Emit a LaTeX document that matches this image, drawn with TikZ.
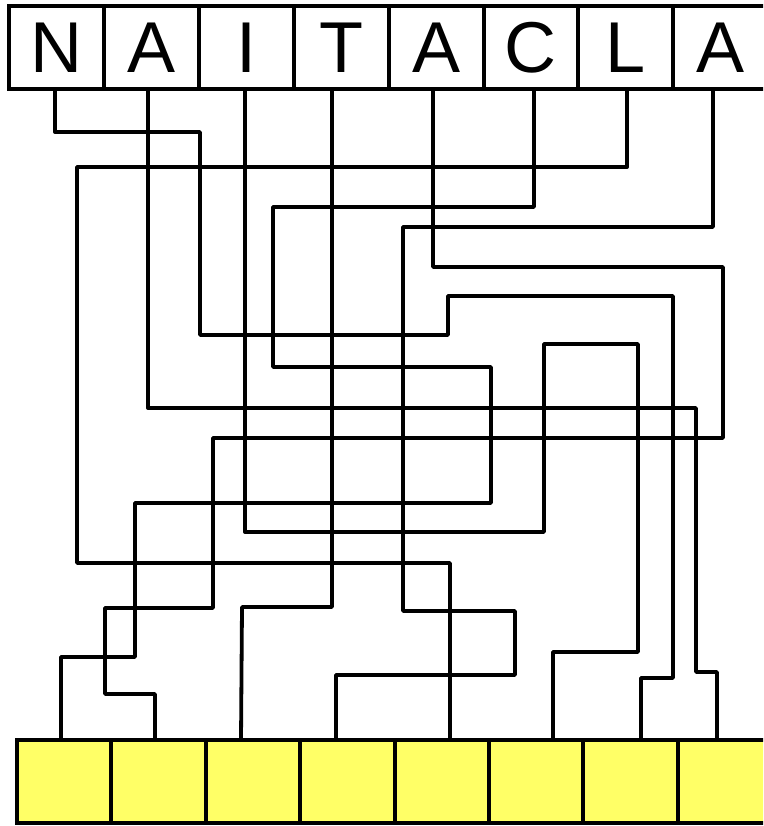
\documentclass[tikz,border=0pt]{standalone}
\usepackage{fontspec}
\setmainfont{Liberation Sans}
\usetikzlibrary{positioning}
\definecolor{cellyellow}{RGB}{255,255,102}

\begin{document}
\begin{tikzpicture}[x=1pt, y=-1pt, node distance=0pt]
    \tikzstyle{letter} = [rectangle, draw, line width=4pt, outer sep=0pt, inner sep=0pt, minimum width=94.9pt, minimum height=83pt, font=\fontsize{72}{72}\selectfont]
    \tikzstyle{slot} = [rectangle, draw, fill=cellyellow, line width=4pt, outer sep=0pt, inner sep=0pt, minimum width=94.4pt, minimum height=83pt]
    \tikzstyle{wire} = [line width=3.8pt, line join=round]

    \useasboundingbox (0,0) rectangle (763,826);
    \clip (0,0) rectangle (763,826);

    % scrambled letters
    \node [letter] (t1) at (56.45,47.5) {N};
    \node [letter, right=of t1] (t2) {A};
    \node [letter, right=of t2] (t3) {I};
    \node [letter, right=of t3] (t4) {T};
    \node [letter, right=of t4] (t5) {A};
    \node [letter, right=of t5] (t6) {C};
    \node [letter, right=of t6] (t7) {L};
    \node [letter, right=of t7] (t8) {A};

    % empty slots
    \node [slot] (b1) at (64.2,781.5) {};
    \node [slot, right=of b1] (b2) {};
    \node [slot, right=of b2] (b3) {};
    \node [slot, right=of b3] (b4) {};
    \node [slot, right=of b4] (b5) {};
    \node [slot, right=of b5] (b6) {};
    \node [slot, right=of b6] (b7) {};
    \node [slot, right=of b7] (b8) {};

    % wires
    \draw [wire] ([xshift=-1.5pt]t1.south) |- (200,132) |- (448,335) |- (673,296) -- (673,678) -| ([xshift=10.4pt]b7.north);
    \draw [wire] ([xshift=-3.4pt]t2.south) |- (696,408) -- (696,672) -| ([xshift=-8pt]b8.north);
    \draw [wire] ([xshift=-1.3pt]t3.south) |- (544,532) |- (638,344) -- (638,652) -| ([xshift=16.8pt]b6.north);
    \draw [wire] ([xshift=-9.2pt]t4.south) |- (242,607) -- ([xshift=-12pt]b3.north);
    \draw [wire] ([xshift=-3pt]t5.south) |- (723,267) |- (213,438) |- (105,608) -- (105,694) -| ([xshift=-3.6pt]b2.north);
    \draw [wire] ([xshift=3pt]t6.south) |- (273,207) |- (491,367) |- (135,503) -- (135,657) -| ([xshift=-3.2pt]b1.north);
    \draw [wire] ([xshift=1.2pt]t7.south) |- (77,167) -- (77,563) -| ([xshift=8.2pt]b5.north);
    \draw [wire] ([xshift=-7.8pt]t8.south) |- (403,227) |- (515,611) -- (515,675) -| ([xshift=-11.4pt]b4.north);
\end{tikzpicture}
\end{document}
